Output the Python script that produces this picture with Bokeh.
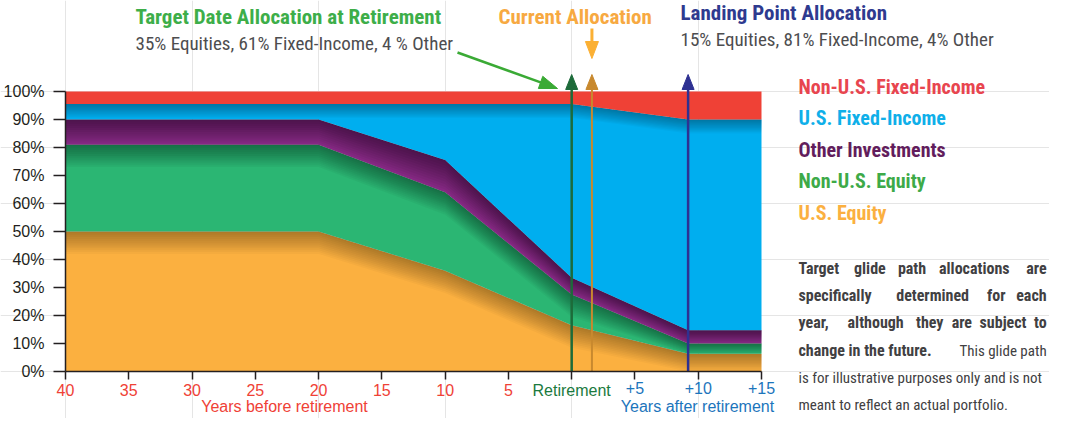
import numpy as np
from bokeh.plotting import figure
from bokeh.models import (LinearAxis, FixedTicker, PrintfTickFormatter,
                          ColumnDataSource, Range1d)
from bokeh.core.properties import value, field
from bokeh.embed import file_html
from bokeh.resources import INLINE

# ---------------- data ----------------
years = [-40, -20, -10, 0, 9.2, 15]
us_equity = [50, 50, 36, 16.5, 6.3, 6.3]
non_us_equity = [31, 31, 28, 11, 3.7, 3.7]
other_investments = [9, 9, 11.5, 6, 4.7, 4.7]
us_fixed_income = [5.5, 5.5, 20, 62, 75.3, 75.3]
non_us_fixed_income = [4.5, 4.5, 4.5, 4.5, 10, 10]

series_names = ["U.S. Equity", "Non-U.S. Equity", "Other Investments",
                "U.S. Fixed-Income", "Non-U.S. Fixed-Income"]
series_colors = ["#FBB040", "#2BB673", "#8B2A89", "#00AEEF", "#EF4136"]
legend_colors = ["#FBB040", "#3DAA48", "#621D5C", "#0FAFE9", "#E8454F"]

x_ticks = [-40, -35, -30, -25, -20, -15, -10, -5, 0, 5, 10, 15]
x_tick_labels = ["40", "35", "30", "25", "20", "15", "10", "5",
                 "Retirement", "+5", "+10", "+15"]
y_ticks = [0, 10, 20, 30, 40, 50, 60, 70, 80, 90, 100]

retirement_year = 0
current_year = 1.6
landing_year = 9.2

# ---------------- layout helpers (canvas px <-> data) ----------------
W, H = 1049, 418
FL, FR, FT, FB = 65, 761, 91, 371   # chart area inside the canvas
X0, X1 = -40, 15


def dx(cx):
    return X0 + (cx - FL) * (X1 - X0) / (FR - FL)


def dy(cy):
    return (FB - cy) * 100.0 / (FB - FT)


def cx_of(x):
    return FL + (x - X0) * (FR - FL) / (X1 - X0)


COND = "Roboto Condensed"
REG = "Liberation Sans"

p = figure(width=W, height=H, x_range=Range1d(dx(0), dx(W)),
           y_range=Range1d(dy(H), dy(0)),
           x_axis_location=None, y_axis_location=None,
           output_backend="svg", toolbar_location=None, min_border=0)
p.outline_line_color = None
p.background_fill_color = "white"
p.border_fill_color = "white"

src = ColumnDataSource(dict(years=years, us_eq=us_equity, nonus_eq=non_us_equity,
                            other=other_investments, us_fi=us_fixed_income,
                            nonus_fi=non_us_fixed_income))
p.varea_stack(stackers=["us_eq", "nonus_eq", "other", "us_fi", "nonus_fi"],
              x="years", color=series_colors, source=src)

# shading (gradient-like darkening below each band's upper edge)
layers = np.array([us_equity, non_us_equity, other_investments,
                   us_fixed_income, non_us_fixed_income], dtype=float)
cum = np.cumsum(layers, axis=0)
bottoms = np.vstack([np.zeros(len(years)), cum[:-1]])
shade = {0: (8, 0.30), 1: (8, 0.36), 2: (None, 0.40), 3: (5, 0.28)}
N = 12
for k, (d, a0) in shade.items():
    top = cum[k]
    bot = bottoms[k]
    depth = (top - bot) if d is None else np.minimum(d, top - bot)
    a = 1 - (1 - a0) ** (1.0 / N)
    for i in range(N):
        lo = top - depth * (i + 1) / N
        p.varea(x=years, y1=lo, y2=top, fill_color="black", fill_alpha=a)

# ---------------- axes (library axes, fixed at the data origin) ----------------
yax = LinearAxis(fixed_location=X0, bounds=(0, 100),
                 ticker=FixedTicker(ticks=y_ticks),
                 formatter=PrintfTickFormatter(format="%d%%"))
yax.major_tick_out = 12
yax.major_tick_in = 0
yax.minor_tick_line_color = None
yax.major_label_standoff = 9
yax.major_label_text_font = REG
yax.major_label_text_font_size = "16px"
yax.major_label_text_color = "#231F20"
yax.axis_line_color = "#231F20"
yax.axis_line_width = 1.5
yax.major_tick_line_color = "#231F20"
yax.major_tick_line_width = 1.5
p.add_layout(yax, "left")

TICK_OUT, STANDOFF = 8, 2
xax = LinearAxis(fixed_location=0, bounds=(X0, X1), ticker=FixedTicker(ticks=x_ticks))
xax.major_label_overrides = {t: (lab if t < 0 else " ")
                             for t, lab in zip(x_ticks, x_tick_labels)}
xax.major_tick_out = TICK_OUT
xax.major_tick_in = 0
xax.minor_tick_line_color = None
xax.major_label_standoff = STANDOFF
xax.major_label_text_font = REG
xax.major_label_text_font_size = "16px"
xax.major_label_text_color = "#EF4136"
xax.axis_line_color = "#231F20"
xax.axis_line_width = 1.5
xax.major_tick_line_color = "#231F20"
xax.major_tick_line_width = 1.5
p.add_layout(xax, "below")

after_ticks = [t for t in x_ticks if t >= 0]
after_labels = [lab for t, lab in zip(x_ticks, x_tick_labels) if t >= 0]
after_colors = ["#1B7A3E" if t == retirement_year else "#1C75BC" for t in after_ticks]
tick_src = ColumnDataSource(dict(x=after_ticks,
                                 y=[dy(FB + TICK_OUT + STANDOFF)] * len(after_ticks),
                                 text=after_labels, color=after_colors))
p.text(x="x", y="y", text="text", source=tick_src, text_color="color",
       text_font=value(REG), text_font_size=value("16px"),
       text_align="center", text_baseline="top")


def txt(cx, cy, text, color, size, bold=False, font=COND, align="left"):
    p.text(x=[dx(cx)], y=[dy(cy)], text=[text], text_font=value(font),
           text_font_size=value(size), text_color=color,
           text_font_style="bold" if bold else "normal",
           text_align=align, text_baseline="middle")


txt(284, 406, "Years before retirement", "#EF4136", "16px", font=REG, align="center")
txt(697, 406, "Years after retirement", "#1C75BC", "16px", font=REG, align="center")

# ---------------- marker lines and arrows ----------------
def head(tip_cx, tip_cy, ux, uy, length, width, color):
    n = np.hypot(ux, uy)
    ux, uy = ux / n, uy / n
    bx, by = tip_cx - ux * length, tip_cy - uy * length
    nx, ny = -uy, ux
    pts = [(tip_cx, tip_cy), (bx + nx * width / 2, by + ny * width / 2),
           (bx - nx * width / 2, by - ny * width / 2)]
    p.patch(x=[dx(a) for a, b in pts], y=[dy(b) for a, b in pts],
            fill_color=color, line_color=color, line_width=1)


def vline_arrow(xv, color, lw, tip_cy, length=15, width=12):
    p.segment(x0=[xv], y0=[0], x1=[xv], y1=[dy(tip_cy + length - 2)],
              line_color=color, line_width=lw)
    head(cx_of(xv), tip_cy, 0, -1, length, width, color)


vline_arrow(retirement_year, "#1D6B3A", 2.5, 74)
vline_arrow(current_year, "#C8892E", 2.0, 74)
vline_arrow(landing_year, "#2E3192", 2.5, 74)

# down arrow for current allocation
cxa = cx_of(current_year)
p.segment(x0=[current_year], y0=[dy(28)], x1=[current_year], y1=[dy(44)],
          line_color="#FBB034", line_width=3)
head(cxa, 58, 0, 1, 17, 13, "#FBB034")

# green diagonal arrow
gx0, gy0, gx1, gy1 = 457, 52, 557, 88
ang = np.hypot(gx1 - gx0, gy1 - gy0)
gux, guy = (gx1 - gx0) / ang, (gy1 - gy0) / ang
p.segment(x0=[dx(gx0)], y0=[dy(gy0)], x1=[dx(gx1 - gux * 15)], y1=[dy(gy1 - guy * 15)],
          line_color="#3AAA35", line_width=2.5)
head(gx1, gy1, gux, guy, 18, 13, "#3AAA35")

# ---------------- top annotations ----------------
txt(135, 16, "Target Date Allocation at Retirement", "#3DAE49", "21px", True)
txt(135, 43, "35% Equities, 61% Fixed-Income, 4 % Other", "#4D4D4F", "19px")
txt(498, 16, "Current Allocation", "#F7A941", "21px", True)
txt(680, 12, "Landing Point Allocation", "#2E3A8F", "21px", True)
txt(680, 39, "15% Equities, 81% Fixed-Income, 4% Other", "#4D4D4F", "19px")

# ---------------- legend (right) ----------------
legend_y = [86, 117.5, 149, 180.5, 212]
leg_src = ColumnDataSource(dict(x=[dx(798)] * 5, y=[dy(v) for v in legend_y],
                                text=series_names[::-1], color=legend_colors[::-1]))
p.text(x="x", y="y", text="text", source=leg_src, text_color="color",
       text_font=value(COND), text_font_size=value("20px"),
       text_font_style="bold", text_align="left", text_baseline="middle")

# ---------------- paragraph ----------------
para_lines_y = [268, 295, 322, 350, 377, 404]
# justified bold lines: (line, image x start, image x end, word)
para_words = [
    (0, 803, 848, "Target"), (0, 860, 895, "glide"), (0, 905, 938, "path"),
    (0, 950, 1023, "allocations"), (0, 1035, 1062, "are"),
    (1, 803, 880, "specifically"), (1, 903, 983, "determined"),
    (1, 997, 1022, "for"), (1, 1033, 1062, "each"),
    (2, 803, 842, "year,"), (2, 850, 917, "although"), (2, 927, 953, "they"),
    (2, 962, 985, "are"), (2, 993, 1040, "subject"), (2, 1047, 1062, "to"),
]
# remaining runs: (line, anchor, text, bold, size)
para_runs = [
    (3, "left", "change in the future.", True, "16px"),
    (3, "right", "This glide path", False, "15px"),
    (4, "left", "is for illustrative purposes only and is not", False, "15px"),
    (5, "left", "meant to reflect an actual portfolio.", False, "15px"),
]


def pxm(ix):
    return 798 + (ix - 803) * 0.958


PL, PR = pxm(803), pxm(1062)
pw = dict(x=[], y=[], text=[], style=[], align=[], size=[])
for line in range(3):
    words = [w for w in para_words if w[0] == line]
    for j, (_, a, b, word) in enumerate(words):
        if j == 0:
            xpos, al = pxm(a), "left"
        elif j == len(words) - 1:
            xpos, al = pxm(b), "right"
        else:
            xpos, al = pxm((a + b) / 2), "center"
        pw["x"].append(dx(xpos))
        pw["y"].append(dy(para_lines_y[line]))
        pw["text"].append(word)
        pw["style"].append("bold")
        pw["align"].append(al)
        pw["size"].append("16px")
for line, anchor, text, bold, size in para_runs:
    pw["x"].append(dx(PL if anchor == "left" else PR))
    pw["y"].append(dy(para_lines_y[line]))
    pw["text"].append(text)
    pw["style"].append("bold" if bold else "normal")
    pw["align"].append(anchor)
    pw["size"].append(size)
p.text(x="x", y="y", text="text", source=ColumnDataSource(pw),
       text_font=value(COND), text_font_size=field("size"),
       text_font_style=field("style"), text_color="#414042",
       text_align=field("align"), text_baseline="middle")

open("out.html", "w").write(file_html(p, INLINE))
